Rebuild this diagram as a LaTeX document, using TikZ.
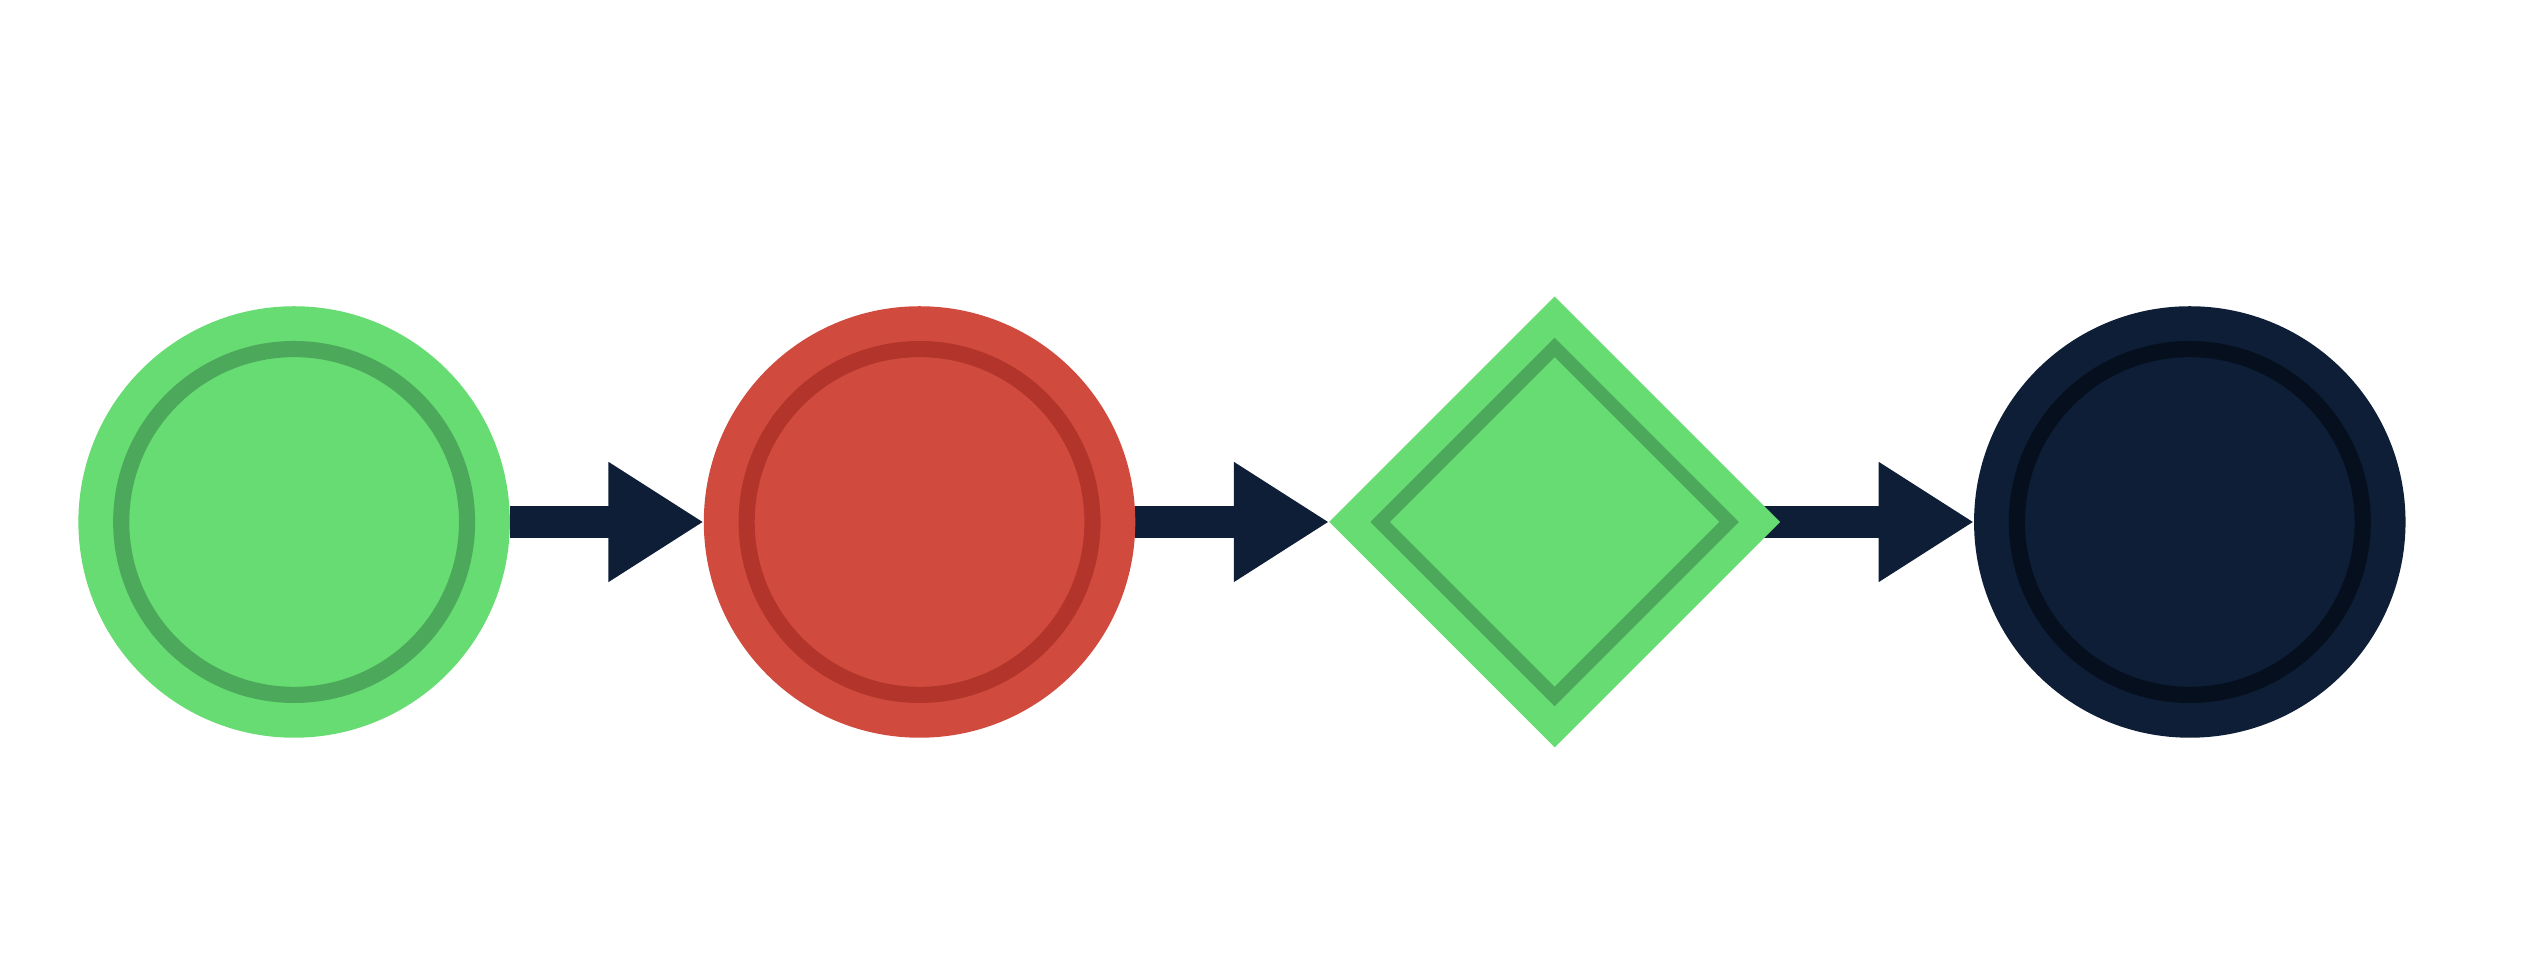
\documentclass[tikz,border=0pt]{standalone}
\usepackage{tikz}
\usetikzlibrary{shapes,shapes.geometric,positioning,arrows.meta,backgrounds}

\definecolor{okfill}{HTML}{66DC72}
\definecolor{okring}{HTML}{4CA85A}
\definecolor{badfill}{HTML}{D04B3E}
\definecolor{badring}{HTML}{B3342A}
\definecolor{navy}{HTML}{0E1E37}
\definecolor{navyring}{HTML}{050F1E}

\begin{document}
\begin{tikzpicture}[node distance=1.2cm,
	  stage/.style 2 args={circle,minimum size=2.67cm,inner sep=0pt,outer sep=0pt,fill=#1,
	    path picture={\draw[#2,line width=0.1cm] (path picture bounding box.center) circle (1.07cm);}},
	  gate/.style 2 args={diamond,aspect=1,minimum size=2.79cm,inner sep=0pt,outer sep=0pt,fill=#1,
	    path picture={\draw[#2,line width=0.085cm,miter limit=4] (path picture bounding box.center)
	      ++(-1.08,0) -- ++(1.08,1.08) -- ++(1.08,-1.08) -- ++(-1.08,-1.08) -- cycle;}}]
	  \tikzstyle{flow} = [navy,line width=0.2cm,-{Triangle[width=0.7cm,length=0.59cm]}]
	  \useasboundingbox (0,0) rectangle (15.68,5.92);
	  \node (start) [stage={okfill}{okring}] at (1.82,2.69) {};
	  \node (fail) [stage={badfill}{badring},right=of start] {};
	  \node (check) [gate={okfill}{okring},right=of fail] {};
	  \node (end) [stage={navy}{navyring},right=of check] {};
	  \begin{pgfonlayer}{background}
	  \draw[flow] (start) -- (fail);
	  \draw[flow] (fail) -- (check);
	  \draw[flow,shorten <=-0.12cm] (check) -- (end);
	  \end{pgfonlayer}
	\end{tikzpicture}
\end{document}
